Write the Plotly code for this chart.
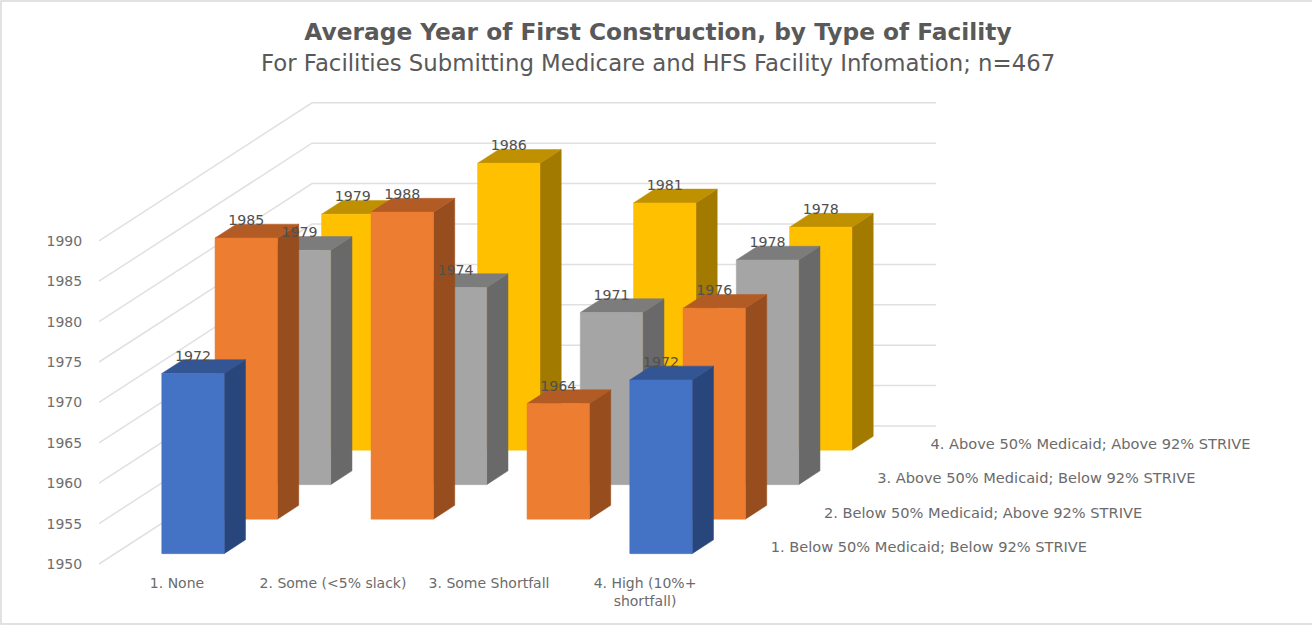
import plotly.graph_objects as go

# ---- data ----
categories = ["1. None", "2. Some (<5% slack)", "3. Some Shortfall", "4. High (10%+<br>shortfall)"]
series_names = [
    "1. Below 50% Medicaid; Below 92% STRIVE",
    "2. Below 50% Medicaid; Above 92% STRIVE",
    "3. Above 50% Medicaid; Below 92% STRIVE",
    "4. Above 50% Medicaid; Above 92% STRIVE",
]
below_below = [1972.3, None, None, 1971.5]
below_above = [1984.8, 1988.0, 1964.3, 1976.1]
above_below = [1979.0, 1974.4, 1971.3, 1977.8]
above_above = [1979.2, 1985.5, 1980.6, 1977.6]
year_ticks = [1950, 1955, 1960, 1965, 1970, 1975, 1980, 1985, 1990]

series_values = [below_below, below_above, above_below, above_above]
front = ["#4472C4", "#ED7D31", "#A5A5A5", "#FFC000"]
side = ["#28467C", "#974D1E", "#696969", "#A37A00"]
top = ["#335593", "#B25B24", "#7C7C7C", "#BF9000"]

# ---- oblique projection: data (category, depth, year) -> 2D axis units ----
W, H = 1312, 625
LEFT, BOTTOM = 99, 573
CAT_PX, DEPTH_X_PX, DEPTH_Y_PX, YEAR_PX = 156, 53.25, 34.5, 8.08
ZERO_Y_PX = 564
BASE = 1950
BAR_W, BAR_D = 0.4, 0.4
FONT = "DejaVu Sans"


def proj(c, d, v):
    return c + d * DEPTH_X_PX / CAT_PX, v + d * DEPTH_Y_PX / YEAR_PX


def polys(faces):
    xs, ys = [], []
    for face in faces:
        for c, d, v in face:
            x, y = proj(c, d, v)
            xs.append(x)
            ys.append(y)
        x, y = proj(*face[0])
        xs += [x, None]
        ys += [y, None]
    return xs, ys


fig = go.Figure()
GRID = "#E0E0E0"
n_cat, n_ser = len(categories), len(series_names)

# side wall and back wall gridlines
gx, gy = [], []
for yr in year_ticks:
    for pt in (proj(0, 0, yr), proj(0, n_ser, yr), proj(n_cat, n_ser, yr)):
        gx.append(pt[0])
        gy.append(pt[1])
    gx.append(None)
    gy.append(None)
fig.add_trace(go.Scatter(x=gx, y=gy, mode="lines", line=dict(color=GRID, width=1.5),
                         hoverinfo="skip", showlegend=False))

# bars, back row first
for s in reversed(range(n_ser)):
    d0 = s + (1 - BAR_D) / 2
    d1 = d0 + BAR_D
    f_faces, s_faces, t_faces = [], [], []
    for c, v in enumerate(series_values[s]):
        if v is None:
            continue
        c0 = c + (1 - BAR_W) / 2
        c1 = c0 + BAR_W
        f_faces.append([(c0, d0, BASE), (c1, d0, BASE), (c1, d0, v), (c0, d0, v)])
        s_faces.append([(c1, d0, BASE), (c1, d1, BASE), (c1, d1, v), (c1, d0, v)])
        t_faces.append([(c0, d0, v), (c1, d0, v), (c1, d1, v), (c0, d1, v)])
    for faces, col in ((s_faces, side[s]), (t_faces, top[s]), (f_faces, front[s])):
        x, y = polys(faces)
        fig.add_trace(go.Scatter(x=x, y=y, mode="lines", fill="toself", fillcolor=col,
                                 line=dict(color=col, width=0.5), name=series_names[s],
                                 hoverinfo="skip", showlegend=False))

# data labels
LABEL_LIFT = 16.5 / YEAR_PX
for s in reversed(range(n_ser)):
    lx, ly, lt = [], [], []
    d0 = s + (1 - BAR_D) / 2
    for c, v in enumerate(series_values[s]):
        if v is None:
            continue
        x, y = proj(c + 0.5, d0, v + LABEL_LIFT)
        lx.append(x)
        ly.append(y)
        lt.append(f"{v:.0f}")
    fig.add_trace(go.Scatter(x=lx, y=ly, text=lt, mode="text", textposition="middle center",
                             textfont=dict(family=FONT, size=14.2, color="#505050"),
                             hoverinfo="skip", showlegend=False))

# depth-axis labels
lx, ly = [], []
for s in range(n_ser):
    x, y = proj(n_cat + 0.135, s + 0.5, BASE - 2 / YEAR_PX)
    lx.append(x)
    ly.append(y)
fig.add_trace(go.Scatter(x=lx, y=ly, text=series_names, mode="text", textposition="middle right",
                         textfont=dict(family=FONT, size=14.6, color="#6B6B6B"),
                         hoverinfo="skip", showlegend=False))

# frame: left, top and bottom edges of the chart area
plot_w, plot_h = W - LEFT, BOTTOM
fx0 = (1 - LEFT) / plot_w
fy0 = 1 - 624 / plot_h
fy1 = 1 - 1 / plot_h
fig.add_shape(type="path", xref="paper", yref="paper",
              path=f"M 1 {fy1} L {fx0} {fy1} L {fx0} {fy0} L 1 {fy0}",
              line=dict(color="#D9D9D9", width=1.5))

fig.update_layout(
    width=W, height=H,
    margin=dict(l=LEFT, r=0, t=0, b=H - BOTTOM),
    paper_bgcolor="white", plot_bgcolor="white",
    showlegend=False,
    title=dict(text="<b>Average Year of First Construction, by Type of Facility</b>",
               x=658 / W, xanchor="center", xref="container",
               y=1 - 32 / H, yanchor="middle", yref="container",
               font=dict(family=FONT, size=23.3, color="#595959")),
    xaxis=dict(range=[0, plot_w / CAT_PX], tickmode="array",
               tickvals=[i + 0.5 for i in range(n_cat)], ticktext=categories,
               showgrid=False, zeroline=False, showline=False, ticks="",
               tickfont=dict(family=FONT, size=14, color="#6B6B6B"), tickangle=0),
    yaxis=dict(range=[BASE - (BOTTOM - ZERO_Y_PX) / YEAR_PX, BASE + ZERO_Y_PX / YEAR_PX],
               tickmode="array", tickvals=year_ticks, ticktext=[str(t) for t in year_ticks],
               showgrid=False, zeroline=False, showline=False,
               ticks="outside", ticklen=13, tickcolor="rgba(0,0,0,0)",
               tickfont=dict(family=FONT, size=14, color="#6E6E6E")),
    annotations=[dict(text="For Facilities Submitting Medicare and HFS Facility Infomation; n=467",
                      xref="paper", yref="paper", x=(658 - LEFT) / plot_w, y=1 - 63 / plot_h,
                      xanchor="center", yanchor="middle", showarrow=False,
                      font=dict(family=FONT, size=22.8, color="#595959"))],
)
fig.write_html("out.html", config={"displayModeBar": False},
               post_script="document.body.style.margin='0';")
